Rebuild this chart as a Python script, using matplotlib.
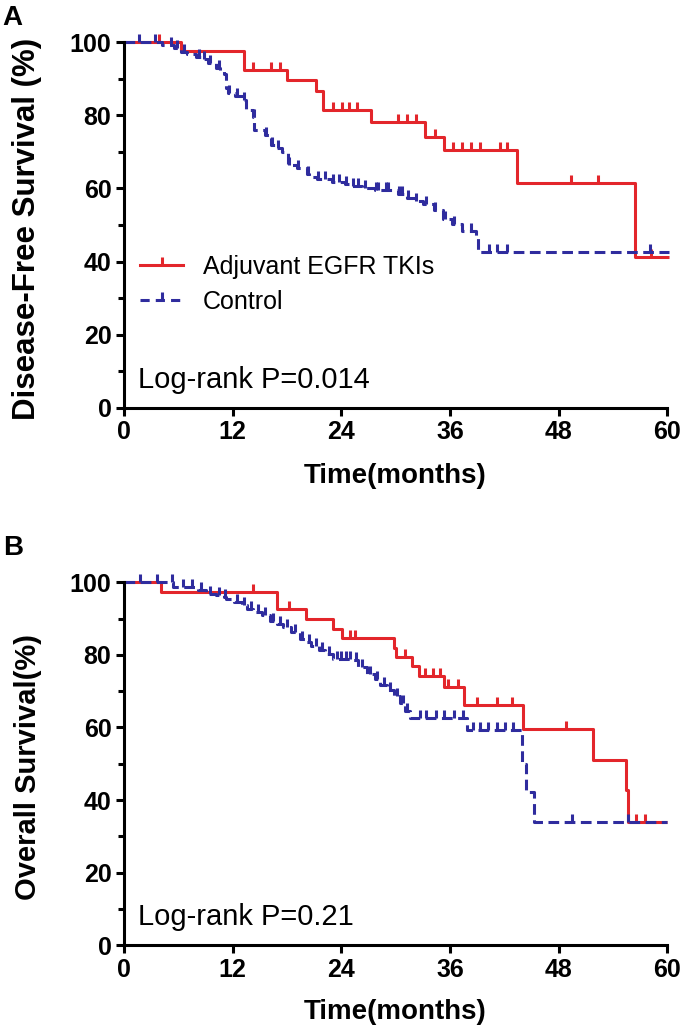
import numpy as np
import matplotlib
matplotlib.use("Agg")
import matplotlib.pyplot as plt
from matplotlib.lines import Line2D

plt.rcParams["font.family"] = ["Liberation Sans", "DejaVu Sans"]

RED = "#e3262b"
BLUE = "#2f2c9e"

# ---- Panel A: disease-free survival ----
a_tki_t = [0, 6.3, 13.3, 18.0, 21.2, 22.0, 27.3, 33.3, 35.3, 43.4, 56.4, 60.2]
a_tki_s = [100, 97.5, 92.3, 89.8, 86.7, 81.4, 78.2, 74.2, 70.6, 61.6, 41.2, 41.2]
a_tki_cens = [3.9, 14.2, 16.2, 17.2, 23.1, 24.1, 24.9, 25.7, 30.3, 31.3, 32.3,
              34.3, 36.3, 37.3, 38.3, 39.3, 41.5, 42.3, 49.4, 52.4, 58.2]

a_ctl_t = [0, 4.2, 5.5, 6.3, 7.0, 8.0, 8.7, 9.3, 10.2, 10.6, 11.0, 11.3, 11.5,
           12.3, 13.2, 13.5, 14.3, 14.4, 15.6, 16.2, 16.9, 17.5, 18.1, 19.1,
           20.2, 20.4, 21.3, 23.0, 24.4, 25.2, 26.3, 27.7, 30.3, 31.3, 32.1,
           33.0, 34.2, 35.2, 36.2, 37.3, 38.9, 39.1, 60.2]
a_ctl_s = [100, 99.2, 98.3, 97.4, 96.7, 96.0, 95.3, 94.2, 93.0, 92.2, 91.4,
           87.5, 86.0, 85.2, 84.3, 81.5, 79.5, 76.0, 74.5, 72.0, 71.0, 70.0,
           66.5, 65.5, 64.0, 63.1, 62.6, 61.8, 61.3, 60.8, 60.0, 59.5, 58.5,
           57.5, 56.7, 55.8, 54.0, 51.7, 50.3, 48.5, 46.7, 42.5, 42.5]
a_ctl_cens = [1.7, 3.4, 5.2, 5.9, 6.6, 8.3, 8.8, 9.5, 10.5, 11.6, 12.5, 13.3,
              14.35, 15.7, 16.4, 17.0, 18.2, 19.2, 20.3, 21.4, 22.2, 23.1,
              23.7, 24.5, 25.3, 25.9, 26.6, 27.8, 28.1, 28.9, 29.2, 30.4, 30.7,
              31.4, 32.2, 33.4, 34.4, 35.5, 36.4, 38.3, 40.3, 41.2, 42.3, 58.1]

# ---- Panel B: overall survival ----
b_tki_t = [0, 4.05, 16.9, 20.1, 23.1, 24.05, 29.8, 30.0, 31.8, 32.6, 35.3,
           37.6, 44.05, 51.8, 55.5, 55.7, 60.0]
b_tki_s = [100, 97.4, 92.6, 90.0, 87.2, 84.8, 81.8, 79.5, 76.9, 74.3, 71.2,
           66.1, 59.5, 51.0, 42.7, 34.0, 34.0]
b_tki_cens = [14.3, 18.2, 25.0, 25.5, 31.0, 33.2, 34.1, 34.9, 35.8, 36.9,
              39.0, 41.2, 42.9, 48.8, 56.5, 57.6]

b_ctl_t = [0, 5.45, 8.2, 9.1, 10.2, 11.0, 11.3, 12.1, 13.0, 13.6, 14.3, 15.2,
           16.1, 16.9, 17.6, 18.5, 19.4, 20.0, 20.7, 21.5, 22.2, 23.1, 25.3,
           25.9, 26.8, 27.7, 28.3, 29.0, 29.8, 30.5, 31.0, 31.6, 37.9, 44.0,
           44.4, 45.3, 60.0]
b_ctl_s = [100, 98.7, 97.8, 96.9, 96.6, 96.1, 95.5, 94.6, 93.7, 92.8, 91.8,
           90.9, 89.5, 88.6, 87.7, 86.3, 84.5, 83.6, 82.6, 81.3, 80.3, 79.0,
           78.5, 76.7, 74.8, 73.5, 71.8, 70.3, 68.6, 66.8, 64.6, 62.5, 59.2,
           50.0, 42.2, 34.0, 34.0]
b_ctl_cens = [1.8, 3.6, 5.3, 6.5, 7.5, 8.5, 9.5, 10.5, 11.2, 12.5, 13.3, 14.0,
              14.8, 15.6, 16.5, 17.2, 18.0, 18.9, 19.7, 20.4, 21.2, 21.9, 22.6,
              23.5, 24.0, 24.5, 25.0, 25.6, 26.3, 27.2, 28.0, 28.7, 29.4, 30.2,
              30.8, 31.3, 32.7, 33.4, 34.5, 35.3, 36.4, 37.5, 38.6, 39.3, 40.2,
              41.2, 42.1, 43.0, 49.5, 55.7]

x_ticks = [0, 12, 24, 36, 48, 60]
labels = ["Adjuvant EGFR TKIs", "Control"]

TICK = [(0, 0), (0, 1)]   # upward censor tick
LW = 2.2


def surv_at(times, surv, t):
    idx = np.searchsorted(times, t, side="right") - 1
    return np.asarray(surv)[idx]


def km(ax, t, s, cens, color, ls):
    kw = dict(color=color, lw=LW, clip_on=False, solid_capstyle="butt")
    if ls == "--":
        ax.step(t, s, where="post", dashes=(3.5, 1.8), **kw)
    else:
        ax.step(t, s, where="post", **kw)
    ax.plot(cens, surv_at(t, s, cens), ls="none", marker=TICK, ms=12,
            mew=LW, color=color, clip_on=False)


def style(ax, ylabel, ysize):
    ax.set_xlim(0, 60)
    ax.set_ylim(0, 100)
    for sp in ("top", "right"):
        ax.spines[sp].set_visible(False)
    for sp in ("left", "bottom"):
        ax.spines[sp].set_linewidth(2.2)
    ax.set_xticks(x_ticks)
    ax.set_yticks(range(0, 101, 20))
    ax.set_yticks(range(10, 100, 20), minor=True)
    ax.tick_params(which="major", length=6, width=2.2, labelsize=18, pad=3)
    ax.tick_params(which="minor", length=4, width=2.2)
    for lab in ax.get_xticklabels() + ax.get_yticklabels():
        lab.set_fontweight("bold")
    ax.set_xlabel("Time(months)", fontsize=20, fontweight="bold")
    ax.xaxis.set_label_coords(0.5, -0.15)
    ax.set_ylabel(ylabel, fontsize=ysize, fontweight="bold")
    ax.yaxis.set_label_coords(-0.151, 0.49)


fig = plt.figure(figsize=(6.85, 10.3), dpi=100)
axA = fig.add_axes([0.181, 0.604, 0.793, 0.355])
axB = fig.add_axes([0.181, 0.0825, 0.793, 0.352])

km(axA, a_tki_t, a_tki_s, a_tki_cens, RED, "-")
km(axA, a_ctl_t, a_ctl_s, a_ctl_cens, BLUE, "--")
km(axB, b_tki_t, b_tki_s, b_tki_cens, RED, "-")
km(axB, b_ctl_t, b_ctl_s, b_ctl_cens, BLUE, "--")

style(axA, "Disease-Free Survival (%)", 22.5)
style(axB, "Overall Survival(%)", 21)

handles = [
    Line2D([], [], color=RED, lw=LW, marker=TICK, ms=12, mew=LW),
    Line2D([], [], color=BLUE, lw=LW, dashes=(3, 2), marker=TICK, ms=12, mew=LW),
]
axA.legend(handles, labels, loc="center left", bbox_to_anchor=(0.03, 0.338),
           frameon=False, fontsize=18, borderpad=0, borderaxespad=0,
           handlelength=1.7, handletextpad=0.8, labelspacing=0.45)

axA.text(0.026, 0.077, "Log-rank P=0.014", transform=axA.transAxes,
         fontsize=21, va="center", ha="left")
axB.text(0.026, 0.077, "Log-rank P=0.21", transform=axB.transAxes,
         fontsize=21, va="center", ha="left")

fig.text(0.004, 1 - 18 / 1030, "A", fontsize=20, fontweight="bold", va="center")
fig.text(0.004, 1 - 548 / 1030, "B", fontsize=20, fontweight="bold", va="center")

fig.savefig("out.png", dpi=100)
